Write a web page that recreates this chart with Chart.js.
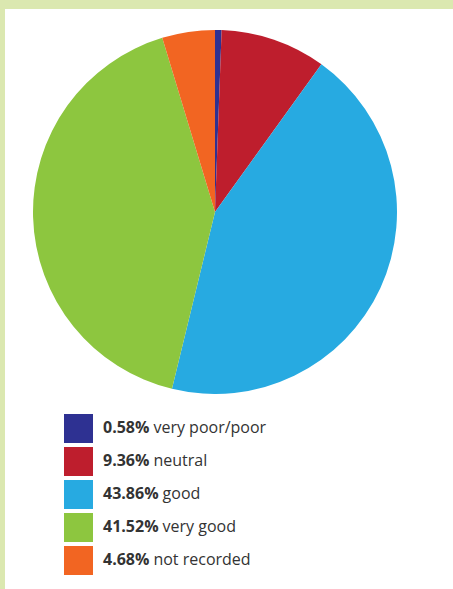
<!DOCTYPE html>
<html>
<head>
<meta charset="utf-8">
<script src="https://cdn.jsdelivr.net/npm/chart.js@4"></script>
<style>
  html, body { margin: 0; padding: 0; }
  body { width: 453px; height: 589px; background: #dbe8b0; position: relative; overflow: hidden; }
  .panel { position: absolute; left: 5px; top: 9px; right: 0; bottom: 0; background: #fff; }
  .pie-box { position: absolute; left: 33px; top: 30px; width: 364px; height: 364px; }
  .legend { position: absolute; left: 64px; top: 414px; font-family: "Open Sans", sans-serif; font-size: 16px; color: #333; }
  .legend .row { display: flex; align-items: center; height: 29px; margin-bottom: 4px; }
  .legend .sw { width: 29px; height: 29px; margin-right: 10px; flex: none; }
  .legend span { position: relative; top: -2px; }
  .legend b { font-weight: 700; margin-right: 4px; }
</style>
</head>
<body>
<div class="panel"></div>
<div class="pie-box"><canvas id="pie"></canvas></div>
<div class="legend" id="legend"></div>
<script>
// survey responses, share of total (%)
const labels = ["very poor/poor", "neutral", "good", "very good", "not recorded"];
const shares = [0.58, 9.36, 43.86, 41.52, 4.68];
const colors = ["#2e3192", "#be1e2d", "#27aae1", "#8dc63f", "#f26522"];

new Chart(document.getElementById("pie"), {
  type: "pie",
  data: {
    labels: labels,
    datasets: [{
      data: shares,
      backgroundColor: colors,
      borderWidth: 0
    }]
  },
  options: {
    responsive: true,
    maintainAspectRatio: false,
    animation: false,
    layout: { padding: 0 },
    plugins: { legend: { display: false }, tooltip: { enabled: false } }
  }
});

// legend with bold percentages
const legend = document.getElementById("legend");
legend.innerHTML = labels.map((lab, i) => `
  <div class="row">
    <div class="sw" style="background:${colors[i]}"></div>
    <span><b>${shares[i].toFixed(2)}%</b>${lab}</span>
  </div>`).join("");
</script>
</body>
</html>
